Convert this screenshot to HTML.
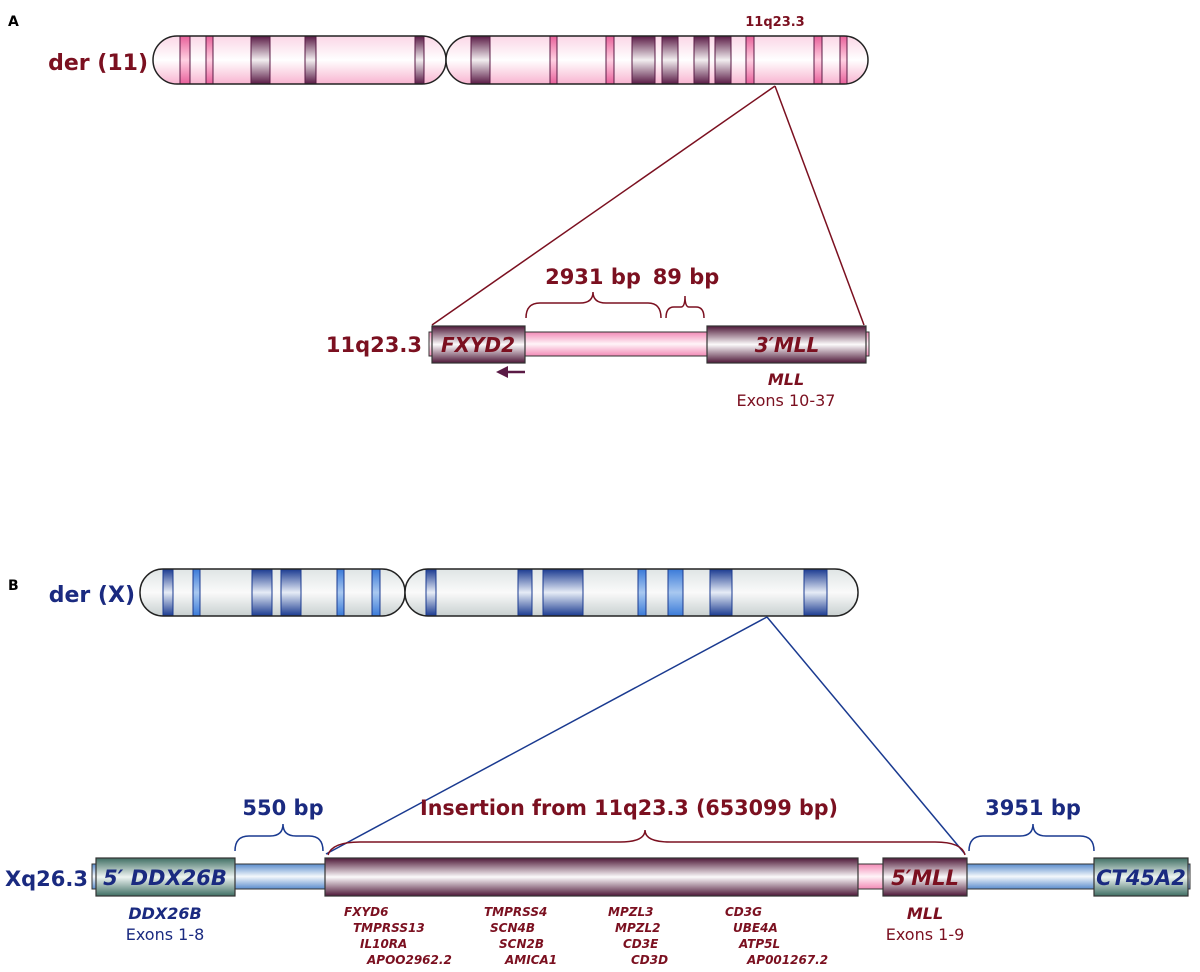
<!DOCTYPE html>
<html><head><meta charset="utf-8"><style>
html,body{margin:0;padding:0;background:#fff;}
svg{display:block;font-family:"DejaVu Sans","Liberation Sans",sans-serif;}
</style></head><body>
<svg width="1200" height="972" viewBox="0 0 1200 972" xmlns="http://www.w3.org/2000/svg">
<defs>
<linearGradient id="pinkC" x1="0" y1="0" x2="0" y2="1"><stop offset="0" stop-color="#fbd6e6"/><stop offset="0.5" stop-color="#fff"/><stop offset="1" stop-color="#f8b4d0"/></linearGradient>
<linearGradient id="darkB" x1="0" y1="0" x2="0" y2="1"><stop offset="0" stop-color="#5a1a45"/><stop offset="0.5" stop-color="#f2eef0"/><stop offset="1" stop-color="#5a1a45"/></linearGradient>
<linearGradient id="pinkB" x1="0" y1="0" x2="0" y2="1"><stop offset="0" stop-color="#e8609a"/><stop offset="0.5" stop-color="#ffd0e2"/><stop offset="1" stop-color="#e8609a"/></linearGradient>
<linearGradient id="greyC" x1="0" y1="0" x2="0" y2="1"><stop offset="0" stop-color="#dfe5e5"/><stop offset="0.5" stop-color="#fafafa"/><stop offset="1" stop-color="#c8d0d0"/></linearGradient>
<linearGradient id="blueB" x1="0" y1="0" x2="0" y2="1"><stop offset="0" stop-color="#1a3a90"/><stop offset="0.5" stop-color="#e6ecf6"/><stop offset="1" stop-color="#1a3a90"/></linearGradient>
<linearGradient id="lblueB" x1="0" y1="0" x2="0" y2="1"><stop offset="0" stop-color="#3a7ad8"/><stop offset="0.5" stop-color="#a8c8f0"/><stop offset="1" stop-color="#3a7ad8"/></linearGradient>
<linearGradient id="purpBox" x1="0" y1="0" x2="0" y2="1"><stop offset="0" stop-color="#4e1838"/><stop offset="0.5" stop-color="#fcfafb"/><stop offset="1" stop-color="#4e1838"/></linearGradient>
<linearGradient id="pinkBar" x1="0" y1="0" x2="0" y2="1"><stop offset="0" stop-color="#f28ab6"/><stop offset="0.5" stop-color="#fff4f8"/><stop offset="1" stop-color="#f28ab6"/></linearGradient>
<linearGradient id="blueBar" x1="0" y1="0" x2="0" y2="1"><stop offset="0" stop-color="#5a8ccc"/><stop offset="0.5" stop-color="#f4f8fc"/><stop offset="1" stop-color="#5a8ccc"/></linearGradient>
<linearGradient id="greenBox" x1="0" y1="0" x2="0" y2="1"><stop offset="0" stop-color="#3f6e63"/><stop offset="0.5" stop-color="#eef4f2"/><stop offset="1" stop-color="#3f6e63"/></linearGradient>
</defs>

<!-- A -->
<text x="8" y="26" font-size="14" font-weight="bold" fill="#000">A</text>
<text x="148" y="70" font-size="22" font-weight="bold" fill="#7b1020" text-anchor="end">der (11)</text>
<text x="775" y="26" font-size="13" font-weight="bold" fill="#7b1020" text-anchor="middle">11q23.3</text>
<g stroke="#5a1a45" stroke-width="1">
<rect x="153" y="36" width="293" height="48" rx="24" fill="url(#pinkC)" stroke="none"/>
<rect x="180" y="36" width="10" height="48" fill="url(#pinkB)"/>
<rect x="206" y="36" width="7" height="48" fill="url(#pinkB)"/>
<rect x="251" y="36" width="19" height="48" fill="url(#darkB)"/>
<rect x="305" y="36" width="11" height="48" fill="url(#darkB)"/>
<rect x="415" y="36" width="9" height="48" fill="url(#darkB)"/>
<rect x="153" y="36" width="293" height="48" rx="24" fill="none" stroke="#222" stroke-width="1.5"/>
<rect x="446" y="36" width="422" height="48" rx="24" fill="url(#pinkC)" stroke="none"/>
<rect x="471" y="36" width="19" height="48" fill="url(#darkB)"/>
<rect x="550" y="36" width="7" height="48" fill="url(#pinkB)"/>
<rect x="606" y="36" width="8" height="48" fill="url(#pinkB)"/>
<rect x="632" y="36" width="23" height="48" fill="url(#darkB)"/>
<rect x="662" y="36" width="16" height="48" fill="url(#darkB)"/>
<rect x="694" y="36" width="15" height="48" fill="url(#darkB)"/>
<rect x="715" y="36" width="16" height="48" fill="url(#darkB)"/>
<rect x="746" y="36" width="8" height="48" fill="url(#pinkB)"/>
<rect x="814" y="36" width="8" height="48" fill="url(#pinkB)"/>
<rect x="840" y="36" width="7" height="48" fill="url(#pinkB)"/>
<rect x="446" y="36" width="422" height="48" rx="24" fill="none" stroke="#222" stroke-width="1.5"/>
</g>
<line x1="775" y1="86" x2="432" y2="325" stroke="#7b1020" stroke-width="1.5"/>
<line x1="775" y1="86" x2="864" y2="325" stroke="#7b1020" stroke-width="1.5"/>

<text x="422" y="352" font-size="21" font-weight="bold" fill="#7b1020" text-anchor="end">11q23.3</text>
<rect x="429" y="332" width="440" height="24" fill="url(#pinkBar)" stroke="#333" stroke-width="1"/>
<rect x="432" y="326" width="93" height="37" fill="url(#purpBox)" stroke="#333" stroke-width="1.2"/>
<rect x="707" y="326" width="159" height="37" fill="url(#purpBox)" stroke="#333" stroke-width="1.2"/>
<text x="478" y="352" font-size="20" font-weight="bold" font-style="italic" fill="#7b1020" text-anchor="middle">FXYD2</text>
<text x="787" y="352" font-size="20" font-weight="bold" font-style="italic" fill="#7b1020" text-anchor="middle">3′MLL</text>
<path d="M526 318 Q526 303 540 303 L580 303 Q593 303 593 292 Q593 303 606 303 L648 303 Q661 303 661 318" fill="none" stroke="#7b1020" stroke-width="1.5"/>
<path d="M666 318 Q666 307 674 307 L681 307 Q685 307 685 296 Q685 307 689 307 L696 307 Q704 307 704 318" fill="none" stroke="#7b1020" stroke-width="1.5"/>
<text x="593" y="284" font-size="21" font-weight="bold" fill="#7b1020" text-anchor="middle">2931 bp</text>
<text x="686" y="284" font-size="21" font-weight="bold" fill="#7b1020" text-anchor="middle">89 bp</text>
<line x1="504" y1="372" x2="525" y2="372" stroke="#5a1a45" stroke-width="2.5"/>
<path d="M496 372 L508 366 L508 378 Z" fill="#5a1a45"/>
<text x="786" y="385" font-size="16" font-weight="bold" font-style="italic" fill="#7b1020" text-anchor="middle">MLL</text>
<text x="786" y="406" font-size="16" fill="#7b1020" text-anchor="middle">Exons 10-37</text>

<!-- B -->
<text x="8" y="590" font-size="14" font-weight="bold" fill="#000">B</text>
<text x="135" y="602" font-size="22" font-weight="bold" fill="#1a2a80" text-anchor="end">der (X)</text>
<text x="770" y="584" font-size="13" font-weight="bold" fill="#1a2a80" text-anchor="middle">Xq26.3</text>
<g stroke="#1a3a90" stroke-width="1">
<rect x="140" y="569" width="265" height="47" rx="23" fill="url(#greyC)" stroke="none"/>
<rect x="163" y="569" width="10" height="47" fill="url(#blueB)"/>
<rect x="193" y="569" width="7" height="47" fill="url(#lblueB)"/>
<rect x="252" y="569" width="20" height="47" fill="url(#blueB)"/>
<rect x="281" y="569" width="20" height="47" fill="url(#blueB)"/>
<rect x="337" y="569" width="7" height="47" fill="url(#lblueB)"/>
<rect x="372" y="569" width="8" height="47" fill="url(#lblueB)"/>
<rect x="140" y="569" width="265" height="47" rx="23" fill="none" stroke="#222" stroke-width="1.5"/>
<rect x="405" y="569" width="453" height="47" rx="23" fill="url(#greyC)" stroke="none"/>
<rect x="426" y="569" width="10" height="47" fill="url(#blueB)"/>
<rect x="518" y="569" width="14" height="47" fill="url(#blueB)"/>
<rect x="543" y="569" width="40" height="47" fill="url(#blueB)"/>
<rect x="638" y="569" width="8" height="47" fill="url(#lblueB)"/>
<rect x="668" y="569" width="15" height="47" fill="url(#lblueB)"/>
<rect x="710" y="569" width="22" height="47" fill="url(#blueB)"/>
<rect x="804" y="569" width="23" height="47" fill="url(#blueB)"/>
<rect x="405" y="569" width="453" height="47" rx="23" fill="none" stroke="#222" stroke-width="1.5"/>
</g>
<line x1="767" y1="617" x2="326" y2="854" stroke="#1a3a90" stroke-width="1.5"/>
<line x1="767" y1="617" x2="965" y2="854" stroke="#1a3a90" stroke-width="1.5"/>

<text x="88" y="886" font-size="21" font-weight="bold" fill="#1a2a80" text-anchor="end">Xq26.3</text>
<rect x="92" y="864" width="1098" height="25" fill="url(#blueBar)" stroke="#333" stroke-width="1"/>
<rect x="858" y="864" width="25" height="25" fill="url(#pinkBar)" stroke="#333" stroke-width="1"/>
<rect x="96" y="858" width="139" height="38" fill="url(#greenBox)" stroke="#333" stroke-width="1.2"/>
<rect x="325" y="858" width="533" height="38" fill="url(#purpBox)" stroke="#333" stroke-width="1.2"/>
<rect x="883" y="858" width="84" height="38" fill="url(#purpBox)" stroke="#333" stroke-width="1.2"/>
<rect x="1094" y="858" width="94" height="38" fill="url(#greenBox)" stroke="#333" stroke-width="1.2"/>
<text x="165" y="885" font-size="21" font-weight="bold" font-style="italic" fill="#1a2a80" text-anchor="middle">5′ DDX26B</text>
<text x="925" y="885" font-size="21" font-weight="bold" font-style="italic" fill="#7b1020" text-anchor="middle">5′MLL</text>
<text x="1141" y="885" font-size="21" font-weight="bold" font-style="italic" fill="#1a2a80" text-anchor="middle">CT45A2</text>

<path d="M235 851 Q235 836 249 836 L270 836 Q283 836 283 824 Q283 836 296 836 L309 836 Q323 836 323 851" fill="none" stroke="#1a3a90" stroke-width="1.5"/>
<path d="M969 851 Q969 836 983 836 L1020 836 Q1033 836 1033 824 Q1033 836 1046 836 L1080 836 Q1094 836 1094 851" fill="none" stroke="#1a3a90" stroke-width="1.5"/>
<path d="M328 855 Q332 842 360 842 L620 842 Q645 842 645 830 Q645 842 670 842 L935 842 Q962 842 965 855" fill="none" stroke="#7b1020" stroke-width="1.5"/>
<text x="283" y="815" font-size="21" font-weight="bold" fill="#1a2a80" text-anchor="middle">550 bp</text>
<text x="1033" y="815" font-size="21" font-weight="bold" fill="#1a2a80" text-anchor="middle">3951 bp</text>
<text x="629" y="815" font-size="21" font-weight="bold" fill="#7b1020" text-anchor="middle" textLength="418" lengthAdjust="spacingAndGlyphs">Insertion from 11q23.3 (653099 bp)</text>

<text x="165" y="919" font-size="16" font-weight="bold" font-style="italic" fill="#1a2a80" text-anchor="middle">DDX26B</text>
<text x="165" y="940" font-size="16" fill="#1a2a80" text-anchor="middle">Exons 1-8</text>
<text x="925" y="919" font-size="16" font-weight="bold" font-style="italic" fill="#7b1020" text-anchor="middle">MLL</text>
<text x="925" y="940" font-size="16" fill="#7b1020" text-anchor="middle">Exons 1-9</text>

<g font-size="12" font-weight="bold" font-style="italic" fill="#7b1020">
<text x="344" y="916">FXYD6</text>
<text x="353" y="932">TMPRSS13</text>
<text x="360" y="948">IL10RA</text>
<text x="367" y="964">APOO2962.2</text>
<text x="484" y="916">TMPRSS4</text>
<text x="490" y="932">SCN4B</text>
<text x="499" y="948">SCN2B</text>
<text x="505" y="964">AMICA1</text>
<text x="608" y="916">MPZL3</text>
<text x="615" y="932">MPZL2</text>
<text x="623" y="948">CD3E</text>
<text x="631" y="964">CD3D</text>
<text x="725" y="916">CD3G</text>
<text x="733" y="932">UBE4A</text>
<text x="739" y="948">ATP5L</text>
<text x="747" y="964">AP001267.2</text>
</g>
</svg>
</body></html>
